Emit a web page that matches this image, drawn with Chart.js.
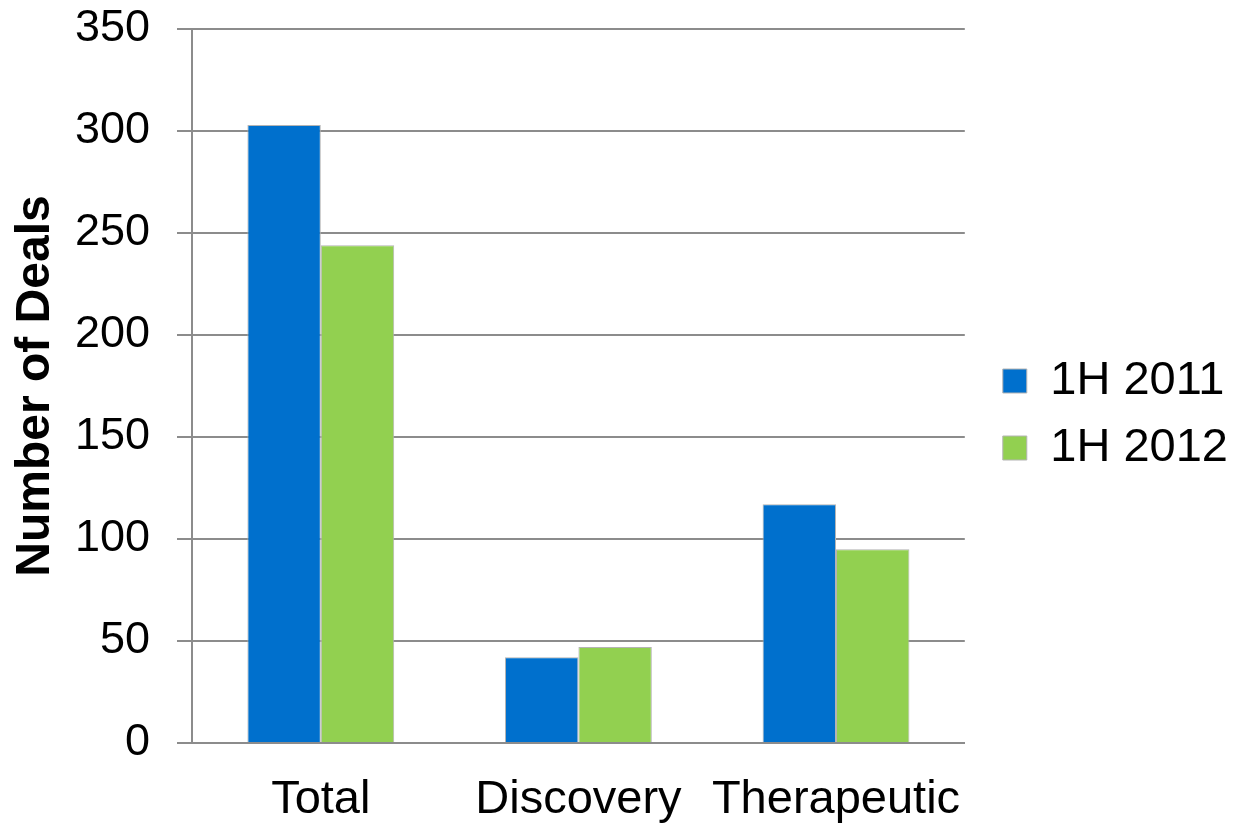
<!DOCTYPE html>
<html>
<head>
<meta charset="utf-8">
<script src="https://cdn.jsdelivr.net/npm/chart.js@4/dist/chart.umd.min.js"></script>
<style>
  html, body { margin: 0; padding: 0; background: #ffffff; }
  #wrap { width: 1233px; height: 826px; }
</style>
</head>
<body>
<div id="wrap"><canvas id="c" width="1233" height="826"></canvas></div>
<script>
// Deal counts by segment, first half of each year
const categories = ['Total', 'Discovery', 'Therapeutic'];
const seriesNames = ['1H 2011', '1H 2012'];
const deals2011 = [303, 42, 117];
const deals2012 = [244, 47, 95];
const yTicks = [0, 50, 100, 150, 200, 250, 300, 350];

const FONT = "'Liberation Sans', Arial, Helvetica, sans-serif";
const GRID = '#8c8c8c';
const LEGEND_GAP = 18; // blank space between plot area and legend

function barSet(label, values, color) {
  return {
    label: label,
    data: values,
    backgroundColor: color,
    borderColor: '#b4b4b4',
    borderWidth: 1,
    barPercentage: 1.0,
    categoryPercentage: 0.57
  };
}

// Widen the legend box and push its content right, leaving a gap next to the plot
const legendGap = {
  id: 'legendGap',
  beforeLayout(chart) {
    const lg = chart.legend;
    if (!lg || lg._gapWrapped) return;
    const fit = lg.fit;
    lg.fit = function () {
      fit.call(this);
      this.width += LEGEND_GAP;
    };
    lg._gapWrapped = true;
  },
  afterLayout(chart) {
    if (chart.legend) chart.legend.left += LEGEND_GAP;
  }
};

new Chart(document.getElementById('c'), {
  type: 'bar',
  data: {
    labels: categories,
    datasets: [
      barSet(seriesNames[0], deals2011, '#0070cd'),
      barSet(seriesNames[1], deals2012, '#92d050')
    ]
  },
  plugins: [legendGap],
  options: {
    responsive: false,
    animation: false,
    devicePixelRatio: 1,
    layout: { padding: { left: 0, right: -5, top: 3, bottom: 0 } },
    plugins: {
      tooltip: { enabled: false },
      legend: {
        position: 'right',
        labels: {
          color: '#000000',
          font: { family: FONT, size: 47 },
          boxWidth: 24,
          boxHeight: 24,
          padding: 20
        }
      }
    },
    scales: {
      x: {
        grid: { display: false, drawTicks: false },
        border: { display: true, color: GRID, width: 2 },
        ticks: {
          color: '#000000',
          font: { family: FONT, size: 47 },
          padding: 29,
          maxRotation: 0,
          autoSkip: false
        },
        afterFit: (scale) => {
          scale.height = 83;
          scale.paddingLeft = 0;
          scale.paddingRight = 0;
        }
      },
      y: {
        min: 0,
        max: 350,
        afterBuildTicks: (axis) => { axis.ticks = yTicks.map(v => ({ value: v })); },
        grid: { color: GRID, lineWidth: 2, tickLength: 15, drawTicks: true },
        border: { display: true, color: GRID, width: 2 },
        ticks: {
          color: '#000000',
          font: { family: FONT, size: 45 },
          padding: 27
        },
        title: {
          display: true,
          text: 'Number of Deals',
          color: '#000000',
          font: { family: FONT, size: 48, weight: 'bold' },
          padding: { top: 7, bottom: 0 }
        },
        afterFit: (scale) => {
          scale.width = 192;
          scale.paddingTop = 29;
          scale.paddingBottom = 0;
        }
      }
    }
  }
});
</script>
</body>
</html>
